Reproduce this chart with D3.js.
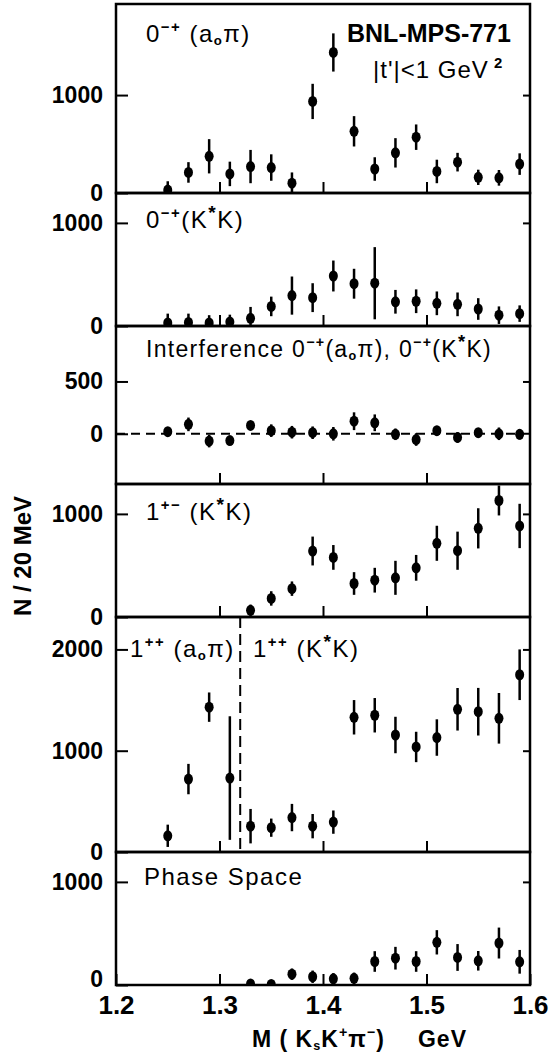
<!DOCTYPE html>
<html>
<head>
<meta charset="utf-8">
<script src="https://cdn.jsdelivr.net/npm/d3@7"></script>
<style>
    body { margin: 0; background: #fff; }
    text { font-family: "Liberation Sans", Arial, sans-serif; fill: #000; }
</style>
</head>
<body>
<svg id="chart" width="549" height="1056"></svg>
<script>
//////////////////////////////////////////DATA//////////////////////////////////////////
// bin centres (20 MeV bins), GeV
const mass = [1.25, 1.27, 1.29, 1.31, 1.33, 1.35, 1.37, 1.39, 1.41, 1.43, 1.45, 1.47, 1.49, 1.51, 1.53, 1.55, 1.57, 1.59];
const massFrom133 = [1.33, 1.35, 1.37, 1.39, 1.41, 1.43, 1.45, 1.47, 1.49, 1.51, 1.53, 1.55, 1.57, 1.59];
const massTo131 = [1.25, 1.27, 1.29, 1.31];

// 0-+ (a0 pi)
const aoPiVal = [30, 210, 375, 195, 270, 260, 100, 935, 1435, 630, 245, 410, 570, 220, 315, 160, 155, 295];
const aoPiErr = [90, 105, 175, 125, 170, 135, 110, 180, 195, 155, 120, 150, 130, 120, 95, 78, 80, 110];

// 0-+ (K* K)
const kstarVal = [30, 35, 30, 40, 75, 190, 295, 275, 485, 410, 415, 235, 240, 220, 210, 165, 105, 120];
const kstarErr = [90, 85, 75, 70, 110, 95, 185, 140, 150, 145, 350, 115, 115, 115, 115, 105, 85, 80];

// interference 0-+(a0 pi), 0-+(K* K)
const interfVal = [20, 90, -70, -65, 80, 30, 15, 10, 0, 120, 105, -5, -55, 30, -35, 10, 0, -5];
const interfErr = [40, 65, 60, 40, 40, 60, 60, 60, 65, 85, 80, 55, 60, 45, 50, 40, 60, 50];

// 1+- (K* K)
const onePMVal = [65, 180, 275, 640, 578, 325, 357, 380, 477, 715, 643, 860, 1130, 883];
const onePMErr = [55, 70, 70, 140, 120, 110, 120, 165, 125, 170, 185, 195, 145, 215];

// 1++ (a0 pi) and 1++ (K* K)
const onePPaoVal = [160, 720, 1430, 730];
const onePPaoErr = [110, 150, 145, 610];
const onePPkVal = [255, 240, 340, 255, 295, 1330, 1350, 1155, 1037, 1130, 1409, 1385, 1320, 1750];
const onePPkErr = [170, 90, 135, 120, 115, 170, 170, 180, 150, 180, 210, 235, 250, 250];

// phase space
const phaseVal = [10, 5, 105, 80, 60, 65, 228, 260, 228, 414, 267, 235, 407, 225];
const phaseErr = [0, 0, 55, 60, 55, 55, 100, 110, 100, 118, 130, 95, 150, 115];

const xTicks = [1.2, 1.3, 1.4, 1.5, 1.6];

//////////////////////////////////////////LAYOUT//////////////////////////////////////////
const svg = d3.select("#chart");
const x = d3.scaleLinear().domain([1.2, 1.6]).range([116, 530]);

const panels = [
    { top: 4,   bottom: 193, domain: [0, 1930],    ticks: [0, 1000],
      series: [[mass, aoPiVal, aoPiErr]] },
    { top: 193, bottom: 326, domain: [0, 1290],    ticks: [0, 1000],
      series: [[mass, kstarVal, kstarErr]] },
    { top: 326, bottom: 484, domain: [-480, 1030], ticks: [0, 500],
      series: [[mass, interfVal, interfErr]], zeroLine: true },
    { top: 484, bottom: 617, domain: [0, 1290],    ticks: [0, 1000],
      series: [[massFrom133, onePMVal, onePMErr]] },
    { top: 617, bottom: 852, domain: [0, 2320],    ticks: [0, 1000, 2000],
      series: [[massTo131, onePPaoVal, onePPaoErr], [massFrom133, onePPkVal, onePPkErr]], split: 1.32 },
    { top: 852, bottom: 985, domain: [0, 1290],    ticks: [0, 1000],
      series: [[massFrom133, phaseVal, phaseErr]], last: true }
];

//helper for labels with super/subscripts
function richText(g, px, py, parts, size, weight, spacing) {
    const t = g.append("text")
        .attr("x", px).attr("y", py)
        .attr("font-size", size)
        .attr("font-weight", weight || "normal")
        .attr("letter-spacing", spacing || 0);
    let shift = 0;
    parts.forEach(p => {
        const s = p[0], kind = p[1];
        let target = 0, fs = size;
        if (kind === "sup") { target = -size * 0.42; fs = size * 0.62; }
        if (kind === "sub") { target = size * 0.12; fs = size * 0.55; }
        if (kind === "star") { target = -size * 0.38; fs = size * 0.8; }
        t.append("tspan")
            .attr("dy", target - shift)
            .attr("font-size", fs)
            .attr("font-weight", kind ? "bold" : null)
            .text(s);
        shift = target;
    });
    return t;
}

panels.forEach((p, i) => {
    const y = d3.scaleLinear().domain(p.domain).range([p.bottom, p.top]);
    const g = svg.append("g");

    g.append("clipPath").attr("id", "clip" + i)
        .append("rect")
        .attr("x", x(1.2)).attr("y", p.top)
        .attr("width", x(1.6) - x(1.2)).attr("height", p.bottom - p.top);

    //left axis, labelled, ticks inward
    const left = g.append("g")
        .attr("transform", "translate(" + x(1.2) + ",0)")
        .call(d3.axisLeft(y).tickValues(p.ticks).tickSize(-12).tickPadding(13).tickFormat(d3.format("d")));
    left.select(".domain").remove();
    left.selectAll("line").attr("stroke", "#000").attr("stroke-width", 2);
    left.selectAll("text").attr("font-size", 23).attr("font-weight", "bold")
        .attr("font-family", "Liberation Sans, Arial, sans-serif").attr("fill", "#000");
    //keep the lowest zero clear of the mass labels
    if (p.last) left.selectAll("text").filter(d => d === 0).attr("y", -6);

    //right axis ticks only
    const right = g.append("g")
        .attr("transform", "translate(" + x(1.6) + ",0)")
        .call(d3.axisRight(y).tickValues(p.ticks.filter(d => d !== 0)).tickSize(-7).tickFormat(""));
    right.select(".domain").remove();
    right.selectAll("line").attr("stroke", "#000").attr("stroke-width", 2);

    //bottom ticks
    const bottom = g.append("g")
        .attr("transform", "translate(0," + p.bottom + ")")
        .call(d3.axisBottom(x).tickValues(p.last ? xTicks : [1.3, 1.4, 1.5]).tickSize(-11).tickPadding(11)
            .tickFormat(p.last ? d3.format(".1f") : ""));
    bottom.select(".domain").remove();
    bottom.selectAll("line").attr("stroke", "#000").attr("stroke-width", 2);
    bottom.selectAll("text").attr("font-size", 26).attr("font-weight", "bold")
        .attr("font-family", "Liberation Sans, Arial, sans-serif").attr("fill", "#000");

    if (p.zeroLine) {
        g.append("line")
            .attr("x1", x(1.2)).attr("x2", x(1.6))
            .attr("y1", y(0)).attr("y2", y(0))
            .attr("stroke", "#000").attr("stroke-width", 2)
            .attr("stroke-dasharray", "9,6");
    }
    if (p.split) {
        g.append("line")
            .attr("x1", x(p.split)).attr("x2", x(p.split))
            .attr("y1", p.top).attr("y2", p.bottom)
            .attr("stroke", "#000").attr("stroke-width", 2)
            .attr("stroke-dasharray", "11,6");
    }

    //data points
    const pts = g.append("g").attr("clip-path", "url(#clip" + i + ")");
    p.series.forEach(s => {
        const rows = s[0].map((m, k) => ({ m: m, v: s[1][k], e: s[2][k] }));
        pts.selectAll(null).data(rows).join("line")
            .attr("x1", d => x(d.m)).attr("x2", d => x(d.m))
            .attr("y1", d => y(d.v - d.e)).attr("y2", d => y(d.v + d.e))
            .attr("stroke", "#000").attr("stroke-width", 2.5);
        pts.selectAll(null).data(rows).join("ellipse")
            .attr("cx", d => x(d.m)).attr("cy", d => y(d.v))
            .attr("rx", 4.5).attr("ry", 5.5)
            .attr("fill", "#000");
    });

    //frame
    g.append("rect")
        .attr("x", x(1.2)).attr("y", p.top)
        .attr("width", x(1.6) - x(1.2)).attr("height", p.bottom - p.top)
        .attr("fill", "none").attr("stroke", "#000").attr("stroke-width", 2.5);
});

//////////////////////////////////////////LABELS//////////////////////////////////////////
const lab = svg.append("g");
richText(lab, 146, 42, [["0"], ["\u2212+", "sup"], [" (a"], ["o", "sub"], ["\u03c0)"]], 24, "normal", 1.5);
richText(lab, 347, 42, [["BNL-MPS-771"]], 25, "bold", 0);
richText(lab, 373, 78, [["|t'|<1 GeV"], [" 2", "sup"]], 24, "normal", 1);
richText(lab, 146, 228, [["0"], ["\u2212+", "sup"], ["(K"], ["*", "star"], ["K)"]], 24, "normal", 1.5);
richText(lab, 146, 357, [["Interference  0"], ["\u2212+", "sup"], ["(a"], ["o", "sub"], ["\u03c0), 0"], ["\u2212+", "sup"], ["(K"], ["*", "star"], ["K)"]], 23, "normal", 1.3);
richText(lab, 146, 520, [["1"], ["+\u2212", "sup"], [" (K"], ["*", "star"], ["K)"]], 24, "normal", 1.5);
richText(lab, 130, 657, [["1"], ["++", "sup"], [" (a"], ["o", "sub"], ["\u03c0)"]], 24, "normal", 1.5);
richText(lab, 253, 657, [["1"], ["++", "sup"], [" (K"], ["*", "star"], ["K)"]], 24, "normal", 1.5);
richText(lab, 144, 885, [["Phase  Space"]], 24, "normal", 1.5);

//axis titles
svg.append("text")
    .attr("transform", "translate(31,556) rotate(-90)")
    .attr("text-anchor", "middle")
    .attr("font-size", 24).attr("font-weight", "bold")
    .text("N / 20 MeV");
richText(svg, 252, 1047, [["M ( K"], ["s", "sub"], ["K"], ["+", "sup"], ["\u03c0"], ["\u2212", "sup"], [")"]], 23, "bold", 1);
svg.append("text")
    .attr("x", 467).attr("y", 1047)
    .attr("text-anchor", "end")
    .attr("font-size", 23).attr("font-weight", "bold")
    .attr("letter-spacing", 1)
    .text("GeV");
</script>
</body>
</html>
